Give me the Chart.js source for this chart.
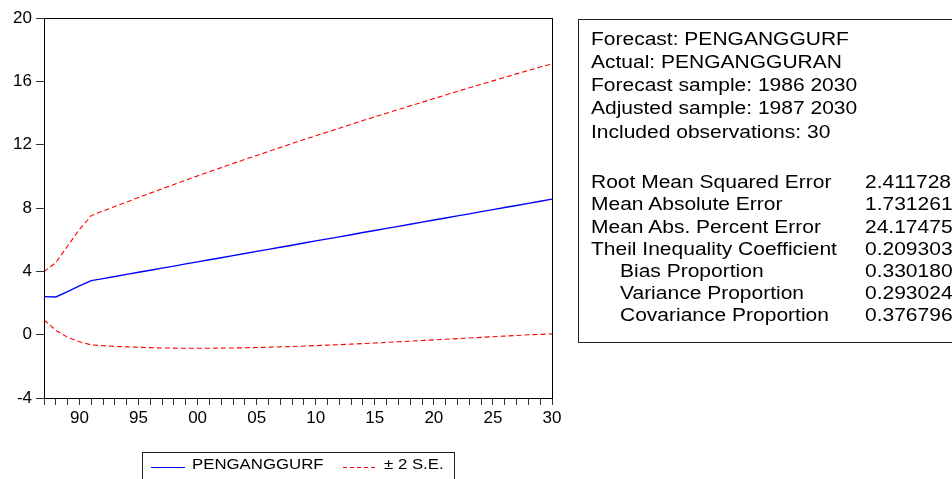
<!DOCTYPE html>
<html>
<head>
<meta charset="utf-8">
<script src="https://cdn.jsdelivr.net/npm/chart.js@4.4.1/dist/chart.umd.min.js"></script>
<style>
    body { margin: 0; background: #fff; width: 952px; height: 479px; overflow: hidden; position: relative;
           font-family: "Liberation Sans", Arial, sans-serif; color: #000; }
    #chart { position: absolute; left: 0; top: 0; }
    .wide { display: inline-block; white-space: nowrap; transform: scaleX(1.2); transform-origin: left center; }
    .stats { position: absolute; left: 578px; top: 19px; width: 420px; height: 324px;
             border: 1px solid #222; box-sizing: border-box; font-size: 17.5px; }
    .block { position: absolute; left: 0; right: 0; }
    .row { position: relative; }
    .row .lab { position: absolute; left: 12px; top: 0; }
    .row .lab.indent { left: 41px; }
    .row .val { position: absolute; left: 286px; top: 0; }
    .legend { position: absolute; left: 142px; top: 452px; width: 313px; height: 40px;
              border: 1px solid #222; box-sizing: border-box; font-size: 14px; }
    .legend .item { position: absolute; top: 4px; line-height: 14px; }
    .legend .swatch { position: absolute; top: 14px; height: 1px; }
    .legend .solid { background: #0000ff; }
    .legend .dashed { background: repeating-linear-gradient(to right, #ff0000 0 4px, transparent 4px 7px); }
</style>
</head>
<body>
<canvas id="chart" width="952" height="479"></canvas>
<div class="stats" id="stats"></div>
<div class="legend" id="legend"></div>

<script>
const years = [1987, 1988, 1989, 1990, 1991, 1992, 1993, 1994, 1995, 1996, 1997, 1998, 1999, 2000, 2001,
    2002, 2003, 2004, 2005, 2006, 2007, 2008, 2009, 2010, 2011, 2012, 2013, 2014, 2015, 2016, 2017,
    2018, 2019, 2020, 2021, 2022, 2023, 2024, 2025, 2026, 2027, 2028, 2029, 2030];

const forecast = [2.40, 2.38, 2.72, 3.08, 3.41, 3.54, 3.67, 3.81, 3.94, 4.07, 4.20, 4.33, 4.47, 4.60, 4.73,
    4.86, 4.99, 5.13, 5.26, 5.39, 5.52, 5.65, 5.79, 5.92, 6.05, 6.18, 6.31, 6.45, 6.58, 6.71, 6.84,
    6.97, 7.11, 7.24, 7.37, 7.50, 7.63, 7.77, 7.90, 8.03, 8.16, 8.29, 8.43, 8.56];

const upperBand = [3.98, 4.55, 5.60, 6.65, 7.52, 7.81, 8.10, 8.38, 8.66, 8.94, 9.22, 9.49, 9.76, 10.03, 10.29,
    10.55, 10.81, 11.07, 11.32, 11.57, 11.82, 12.07, 12.32, 12.56, 12.80, 13.04, 13.28, 13.52, 13.76, 13.99, 14.22,
    14.45, 14.68, 14.91, 15.14, 15.37, 15.59, 15.81, 16.03, 16.25, 16.47, 16.69, 16.90, 17.10];

const lowerBand = [0.93, 0.28, -0.17, -0.45, -0.65, -0.70, -0.74, -0.77, -0.80, -0.82, -0.84, -0.85, -0.86, -0.86, -0.86,
    -0.85, -0.84, -0.83, -0.81, -0.79, -0.77, -0.75, -0.72, -0.69, -0.66, -0.63, -0.60, -0.56, -0.53, -0.49, -0.45,
    -0.41, -0.37, -0.33, -0.29, -0.25, -0.21, -0.17, -0.13, -0.09, -0.05, -0.01, 0.02, 0.05];

const yTicks = [-4, 0, 4, 8, 12, 16, 20];

const headerLines = [
    'Forecast: PENGANGGURF',
    'Actual: PENGANGGURAN',
    'Forecast sample: 1986 2030',
    'Adjusted sample: 1987 2030',
    'Included observations: 30'
];
const statLabels = ['Root Mean Squared Error', 'Mean Absolute Error', 'Mean Abs. Percent Error',
    'Theil Inequality Coefficient', 'Bias Proportion', 'Variance Proportion', 'Covariance Proportion'];
const statValues = ['2.411728', '1.731261', '24.17475', '0.209303', '0.330180', '0.293024', '0.376796'];
const statIndented = [false, false, false, false, true, true, true];

const seriesNames = ['PENGANGGURF', '\u00b1 2 S.E.'];

document.addEventListener('DOMContentLoaded', init);

function init() {
    buildStats();
    buildLegend();
    renderChart();
}

function buildStats() {
    const box = document.getElementById('stats');

    const top = document.createElement('div');
    top.className = 'block';
    top.style.top = '7.5px';
    top.style.lineHeight = '23.3px';
    headerLines.forEach(text => {
        top.appendChild(makeRow(text, null, false, 23.3));
    });
    box.appendChild(top);

    const bottom = document.createElement('div');
    bottom.className = 'block';
    bottom.style.top = '151.3px';
    bottom.style.lineHeight = '22.2px';
    statLabels.forEach((label, i) => {
        bottom.appendChild(makeRow(label, statValues[i], statIndented[i], 22.2));
    });
    box.appendChild(bottom);
}

function makeRow(label, value, indent, h) {
    const row = document.createElement('div');
    row.className = 'row';
    row.style.height = h + 'px';
    const lab = document.createElement('span');
    lab.className = 'lab wide' + (indent ? ' indent' : '');
    lab.textContent = label;
    row.appendChild(lab);
    if (value !== null) {
        const val = document.createElement('span');
        val.className = 'val wide';
        val.textContent = value;
        row.appendChild(val);
    }
    return row;
}

function buildLegend() {
    const legend = document.getElementById('legend');
    legend.innerHTML =
        '<div class="swatch solid" style="left:8px;width:34px"></div>' +
        '<span class="item wide" style="left:49px">' + seriesNames[0] + '</span>' +
        '<div class="swatch dashed" style="left:200px;width:32px"></div>' +
        '<span class="item wide" style="left:241px">' + seriesNames[1] + '</span>';
}

// draws the top and right sides of the plot frame
const frameBox = {
    id: 'frameBox',
    afterDraw(chart) {
        const { ctx, chartArea } = chart;
        ctx.save();
        ctx.strokeStyle = '#000';
        ctx.lineWidth = 1;
        ctx.strokeRect(chartArea.left + 0.5, chartArea.top + 0.5,
            chartArea.right - chartArea.left, chartArea.bottom - chartArea.top);
        ctx.restore();
    }
};

function renderChart() {
    const ctx = document.getElementById('chart').getContext('2d');
    const toPoints = arr => arr.map((v, i) => ({ x: years[i], y: v }));

    Chart.defaults.font.family = '"Liberation Sans", Arial, sans-serif';
    Chart.defaults.color = '#000';

    new Chart(ctx, {
        type: 'line',
        data: {
            datasets: [
                {
                    label: seriesNames[0],
                    data: toPoints(forecast),
                    borderColor: '#0000ff',
                    borderWidth: 1.4,
                    pointRadius: 0,
                    tension: 0
                },
                {
                    label: seriesNames[1],
                    data: toPoints(upperBand),
                    borderColor: '#ff0000',
                    borderWidth: 1.1,
                    borderDash: [5, 3],
                    pointRadius: 0,
                    tension: 0
                },
                {
                    label: '',
                    data: toPoints(lowerBand),
                    borderColor: '#ff0000',
                    borderWidth: 1.1,
                    borderDash: [5, 3],
                    pointRadius: 0,
                    tension: 0
                }
            ]
        },
        options: {
            responsive: false,
            animation: false,
            devicePixelRatio: 1,
            layout: { padding: { top: 18, right: 400, left: 0, bottom: 0 } },
            plugins: { legend: { display: false }, tooltip: { enabled: false } },
            scales: {
                x: {
                    type: 'linear',
                    min: years[0],
                    max: years[years.length - 1],
                    afterFit: scale => { scale.height = 81; },
                    border: { display: true, color: '#000', width: 1 },
                    grid: { drawOnChartArea: false, tickLength: 7, color: '#333' },
                    ticks: {
                        stepSize: 1,
                        autoSkip: false,
                        maxRotation: 0,
                        padding: 3,
                        font: { size: 17 },
                        callback: v => (v % 5 === 0 ? String(v).slice(2) : '')
                    }
                },
                y: {
                    min: yTicks[0],
                    max: yTicks[yTicks.length - 1],
                    afterFit: scale => { scale.width = 44; },
                    afterBuildTicks: scale => { scale.ticks = yTicks.map(v => ({ value: v })); },
                    border: { display: true, color: '#000', width: 1 },
                    grid: { drawOnChartArea: false, tickLength: 8, color: '#333' },
                    ticks: {
                        padding: 4,
                        font: { size: 17 }
                    }
                }
            }
        },
        plugins: [frameBox]
    });
}
</script>
</body>
</html>
